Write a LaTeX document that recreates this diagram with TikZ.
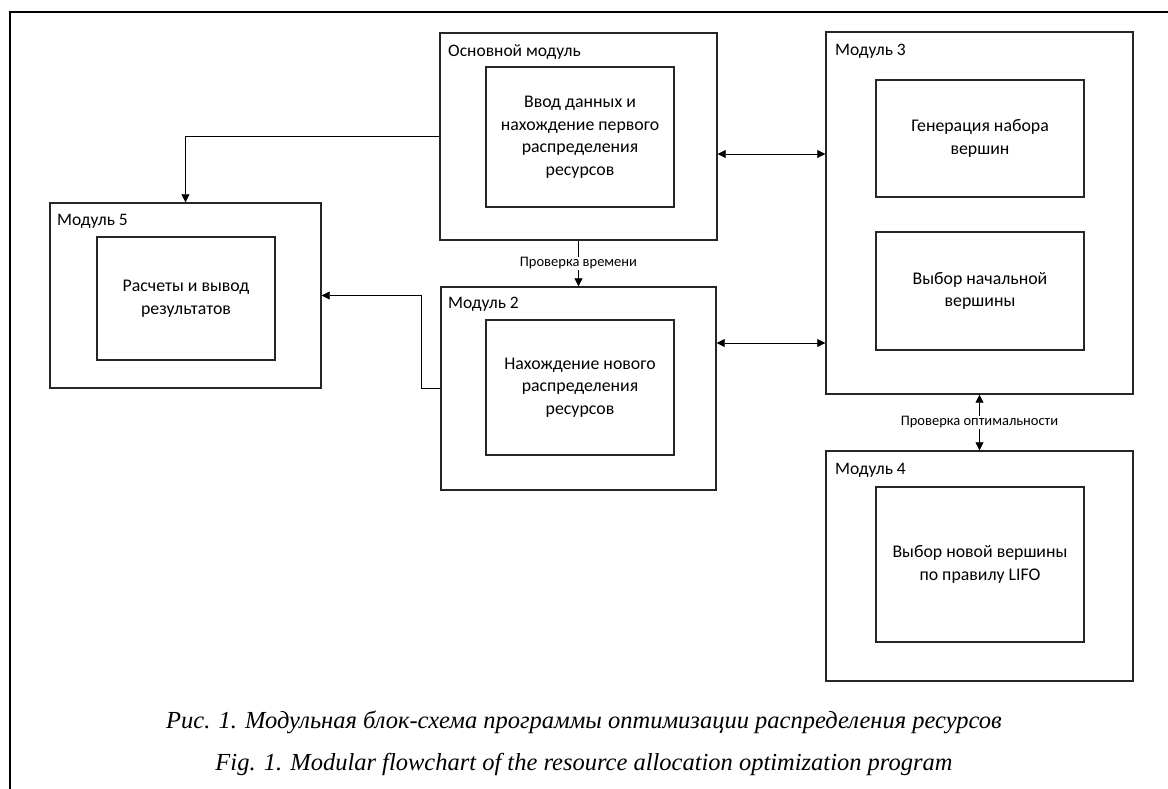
\documentclass[tikz,border=0pt]{standalone}
\usepackage{fontspec}
\setmainfont{Carlito}
\newfontfamily\capfont{Liberation Serif}
\usetikzlibrary{arrows.meta}
\begin{document}
\begin{tikzpicture}[x=1pt,y=-1pt,
  outerbox/.style={draw=black!85,line width=1.4pt,minimum width=#1,inner sep=0pt},
  innerbox/.style={draw=black!85,line width=1.2pt,inner sep=0pt,align=center,font=\fontsize{17.8}{22.5}\selectfont},
  modlabel/.style={anchor=west,inner sep=0pt,font=\fontsize{17.5}{20}\selectfont},
  arr/.style={line width=0.8pt,-{Triangle[length=8pt,width=8pt]}},
  darr/.style={line width=0.8pt,{Triangle[length=8pt,width=8pt]}-{Triangle[length=8pt,width=8pt]}},
  small/.style={fill=white,inner sep=1pt,font=\fontsize{14.5}{16}\selectfont}]
\useasboundingbox (0,0) rectangle (1168,789);
\draw[line width=1.4pt] (10,789) coordinate (fa) -- (10,12) coordinate (fb) -- (1168,12) coordinate (fc);

% Main module
\node[outerbox=277pt,minimum height=207pt] (m1) at (578.5,136.5) {};
\node[modlabel] (m1l) at (448,52) {Основной модуль};
\node[innerbox,minimum width=188pt,minimum height=140pt] (m1i) at (580,137) {Ввод данных и\\нахождение первого\\распределения\\ресурсов};

% Module 2
\node[outerbox=275pt,minimum height=203pt] (m2) at (578.5,388.5) {};
\node[modlabel] (m2l) at (448,304) {Модуль 2};
\node[innerbox,minimum width=188pt,minimum height=135pt] (m2i) at (580,387.5) {Нахождение нового\\распределения\\ресурсов};

% Module 3
\node[outerbox=307pt,minimum height=362pt] (m3) at (979.5,213) {};
\node[modlabel] (m3l) at (835,51) {Модуль 3};
\node[innerbox,minimum width=208pt,minimum height=117pt] (m3a) at (980,138.5) {Генерация набора\\вершин};
\node[innerbox,minimum width=208pt,minimum height=118pt] (m3b) at (980,291) {Выбор начальной\\вершины};

% Module 4
\node[outerbox=307pt,minimum height=230pt] (m4) at (979.5,566) {};
\node[modlabel] (m4l) at (835,470) {Модуль 4};
\node[innerbox,minimum width=208pt,minimum height=155pt] (m4i) at (980,564.5) {Выбор новой вершины\\по правилу LIFO};

% Module 5
\node[outerbox=271pt,minimum height=185pt] (m5) at (185.5,295.5) {};
\node[modlabel] (m5l) at (57,221) {Модуль 5};
\node[innerbox,minimum width=178pt,minimum height=123pt] (m5i) at (186,298.5) {Расчеты и вывод\\результатов};

% Connectors
\draw[arr] (m1.west) -| (m5.north);
\draw[arr] (m1.south) -- node[small] (t1) {Проверка времени} (m2.north);
\draw[arr] (m2.west) -- ++(-19,0) |- (m5.east);
\coordinate (p1) at ([yshift=-17.5pt]m1.east);
\draw[darr] (p1) -- (p1 -| m3.west);
\coordinate (p2) at ([yshift=45.5pt]m2.east);
\draw[darr] (p2) -- (p2 -| m3.west);
\draw[darr] (m3.south) -- node[small] (t2) {Проверка оптимальности} (m4.north);

% Captions
\node[font=\capfont\itshape\fontsize{24.5}{28}\selectfont] (c1) at (584,722) {Рис. 1. Модульная блок-схема программы оптимизации распределения ресурсов};
\node[font=\capfont\itshape\fontsize{24.5}{28}\selectfont] (c2) at (584,764) {Fig. 1. Modular flowchart of the resource allocation optimization program};
\end{tikzpicture}
\end{document}
